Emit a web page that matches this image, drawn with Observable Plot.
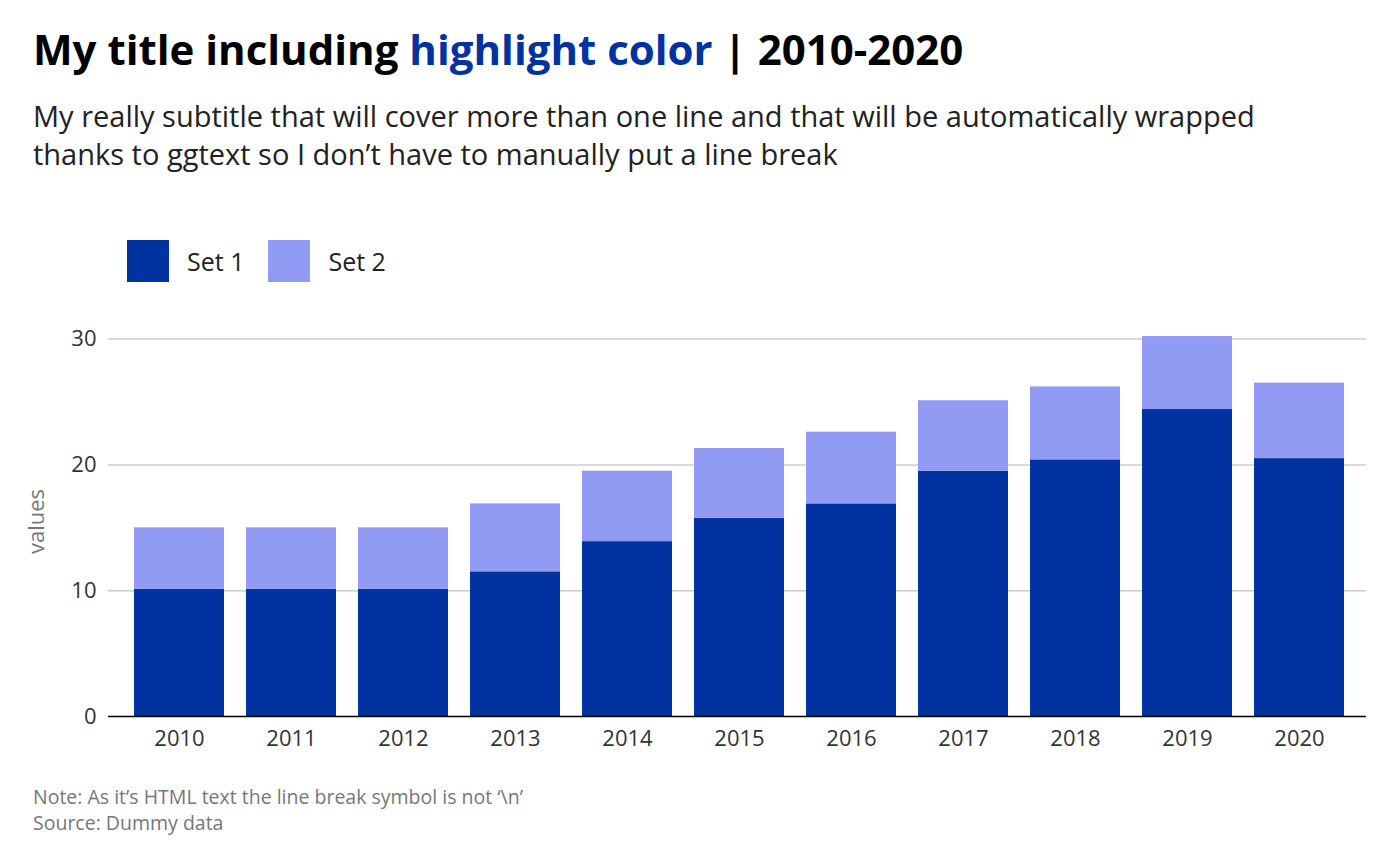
<!DOCTYPE html>
<html>
<head>
<meta charset="utf-8">
<script src="https://cdn.jsdelivr.net/npm/d3@7"></script>
<script src="https://cdn.jsdelivr.net/npm/@observablehq/plot@0.6"></script>
<style>
  body { margin: 0; background: #fff; font-family: "Open Sans", sans-serif; }
  #wrap { position: relative; width: 1400px; height: 866px; }
  h1 { position: absolute; left: 33px; top: 20px; margin: 0; font-size: 42px; font-weight: 700; color: #000; white-space: nowrap; }
  h1 span { color: #0033a0; }
  .sub { position: absolute; left: 33px; top: 97px; width: 1240px; font-size: 29px; line-height: 38px; color: #222; }
  .legend { position: absolute; left: 127px; top: 240px; display: flex; align-items: center; font-size: 25px; color: #222; }
  .sw { width: 42px; height: 42px; display: inline-block; margin-right: 18px; }
  .cap { position: absolute; left: 33px; top: 784px; font-size: 19.5px; line-height: 26px; color: #777; }
  #chart { position: absolute; left: 0; top: 310px; }
</style>
</head>
<body>
<div id="wrap">
  <h1>My title including <span>highlight color</span> | 2010-2020</h1>
  <div class="sub">My really subtitle that will cover more than one line and that will be automatically wrapped thanks to ggtext so I don’t have to manually put a line break</div>
  <div class="legend">
    <span class="sw" style="background:#0033a0"></span><span style="margin-right:24px">Set 1</span>
    <span class="sw" style="background:#929bf4"></span><span>Set 2</span>
  </div>
  <div id="chart"></div>
  <div class="cap">Note: As it’s HTML text the line break symbol is not ‘\n’<br>Source: Dummy data</div>
</div>
<script>
const years = ["2010","2011","2012","2013","2014","2015","2016","2017","2018","2019","2020"];
const set1 = [10.1, 10.1, 10.1, 11.5, 13.9, 15.75, 16.9, 19.5, 20.4, 24.4, 20.5];
const set2 = [4.9, 4.9, 4.9, 5.4, 5.6, 5.55, 5.7, 5.6, 5.8, 5.8, 6.0];

const data = [];
years.forEach((y, i) => {
  data.push({year: y, set: "Set 1", value: set1[i]});
  data.push({year: y, set: "Set 2", value: set2[i]});
});

const chart = Plot.plot({
  width: 1400,
  height: 450,
  marginLeft: 108,
  marginRight: 34,
  marginTop: 16,
  marginBottom: 44,
  style: { fontFamily: "Open Sans", fontSize: "22px", color: "#333" },
  x: { domain: years, label: null, insetLeft: 12, insetRight: 8, paddingInner: 0.2, paddingOuter: 0.1, tickSize: 0, tickPadding: 14 },
  y: { domain: [0, 31], ticks: [0, 10, 20, 30], label: "values", labelAnchor: "center", labelArrow: "none", labelOffset: 80, tickSize: 0, tickPadding: 12 },
  color: { domain: ["Set 2", "Set 1"], range: ["#929bf4", "#0033a0"] },
  marks: [
    Plot.gridY([10, 20, 30], { stroke: "#cccccc", strokeOpacity: 1, strokeWidth: 1.5 }),
    Plot.barY(data, { x: "year", y: "value", fill: "set", order: ["Set 1", "Set 2"] }),
    Plot.ruleY([0], { stroke: "#000", strokeWidth: 1.5 })
  ]
});
d3.select("#chart").append(() => chart);
d3.select(chart).selectAll("[aria-label='y-axis label'] text").attr("fill", "#777");
</script>
</body>
</html>
